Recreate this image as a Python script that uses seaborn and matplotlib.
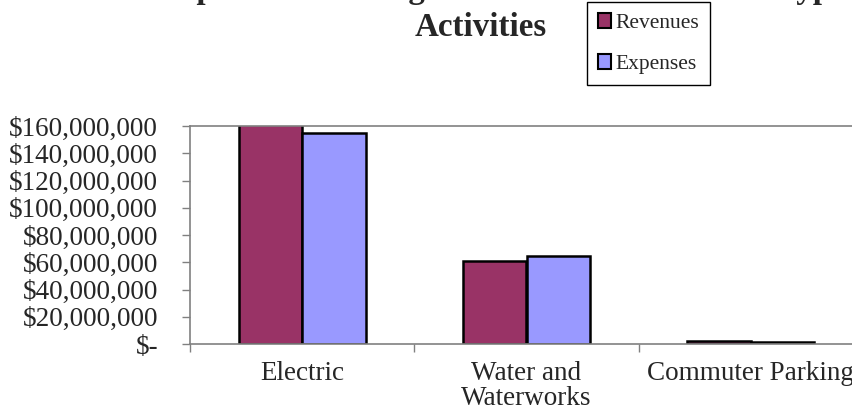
import matplotlib
matplotlib.use("Agg")
import matplotlib.pyplot as plt
import seaborn as sns
import pandas as pd
from matplotlib.ticker import FuncFormatter, FixedLocator
from matplotlib.patches import Patch

categories = ["Electric", "Water and\nWaterworks", "Commuter Parking"]
revenues = [170000000, 61000000, 2500000]
expenses = [155000000, 64500000, 1500000]
series = ["Revenues", "Expenses"]
colors = ["#993366", "#9999FF"]
yticks = [0, 20000000, 40000000, 60000000, 80000000, 100000000, 120000000, 140000000, 160000000]
title_lines = ["Expenses and Program Revenues - Business-type", "Activities"]

df = pd.DataFrame({
    "category": categories * 2,
    "value": revenues + expenses,
    "series": [series[0]] * 3 + [series[1]] * 3,
})

sns.set_style("white")
plt.rcParams["font.family"] = ["Liberation Serif", "DejaVu Serif"]

fig = plt.figure(figsize=(8.52, 4.17), dpi=100)
ax = fig.add_axes([190/852, 1 - 344/417, (863 - 190)/852, (344 - 126)/417])

sns.barplot(data=df, x="category", y="value", hue="series", palette=colors,
            width=0.566, edgecolor="black", linewidth=1.8, ax=ax, legend=False,
            saturation=1)

ax.set_ylim(0, 160000000)
ax.set_xlim(-0.5, 2.5)
ax.set_xlabel("")
ax.set_ylabel("")

def fmt(v, pos):
    if v == 0:
        return "$-"
    return "${:,.0f}".format(v)

ax.yaxis.set_major_locator(FixedLocator(yticks))
ax.yaxis.set_major_formatter(FuncFormatter(fmt))
ax.tick_params(axis="y", labelsize=19.5, length=6, width=1, color="#808080",
               direction="out", left=True, pad=17)

ax.xaxis.set_major_locator(FixedLocator([-0.5, 0.5, 1.5, 2.5]))
ax.xaxis.set_minor_locator(FixedLocator([0, 1, 2]))
ax.set_xticklabels(["", "", "", ""])
ax.set_xticklabels(categories, minor=True)
ax.tick_params(axis="x", which="major", length=6, width=1, color="#808080", direction="out", bottom=True)
ax.tick_params(axis="x", which="minor", length=0, labelsize=19.5, pad=12)
for t in ax.get_xticklabels(minor=True):
    t.set_linespacing(1.0)

for s in ["left", "bottom", "top"]:
    ax.spines[s].set_visible(True)
    ax.spines[s].set_color("#808080")
    ax.spines[s].set_linewidth(1.2)
ax.spines["right"].set_visible(False)

fig.text(502/852, 1 - (-2)/417, title_lines[0], ha="center", va="baseline",
         fontsize=23.8, fontweight="bold", zorder=1)
fig.text(481/852, 1 - 36/417, title_lines[1], ha="center", va="baseline",
         fontsize=23.8, fontweight="bold", zorder=1)

handles = [Patch(facecolor=c, edgecolor="black", linewidth=1.5, label=l) for c, l in zip(colors, series)]
leg = fig.legend(handles=handles, loc="upper left", bbox_to_anchor=(587/852, 1 - 2/417),
                 frameon=True, fontsize=15.5, handlelength=0.6, handleheight=0.7,
                 handletextpad=0.2, labelspacing=1.0, borderpad=0.5, borderaxespad=0,
                 fancybox=False, framealpha=1)
leg.get_frame().set_edgecolor("black")
leg.get_frame().set_linewidth(1)
leg.set_zorder(10)

fig.savefig("out.png", dpi=100)
